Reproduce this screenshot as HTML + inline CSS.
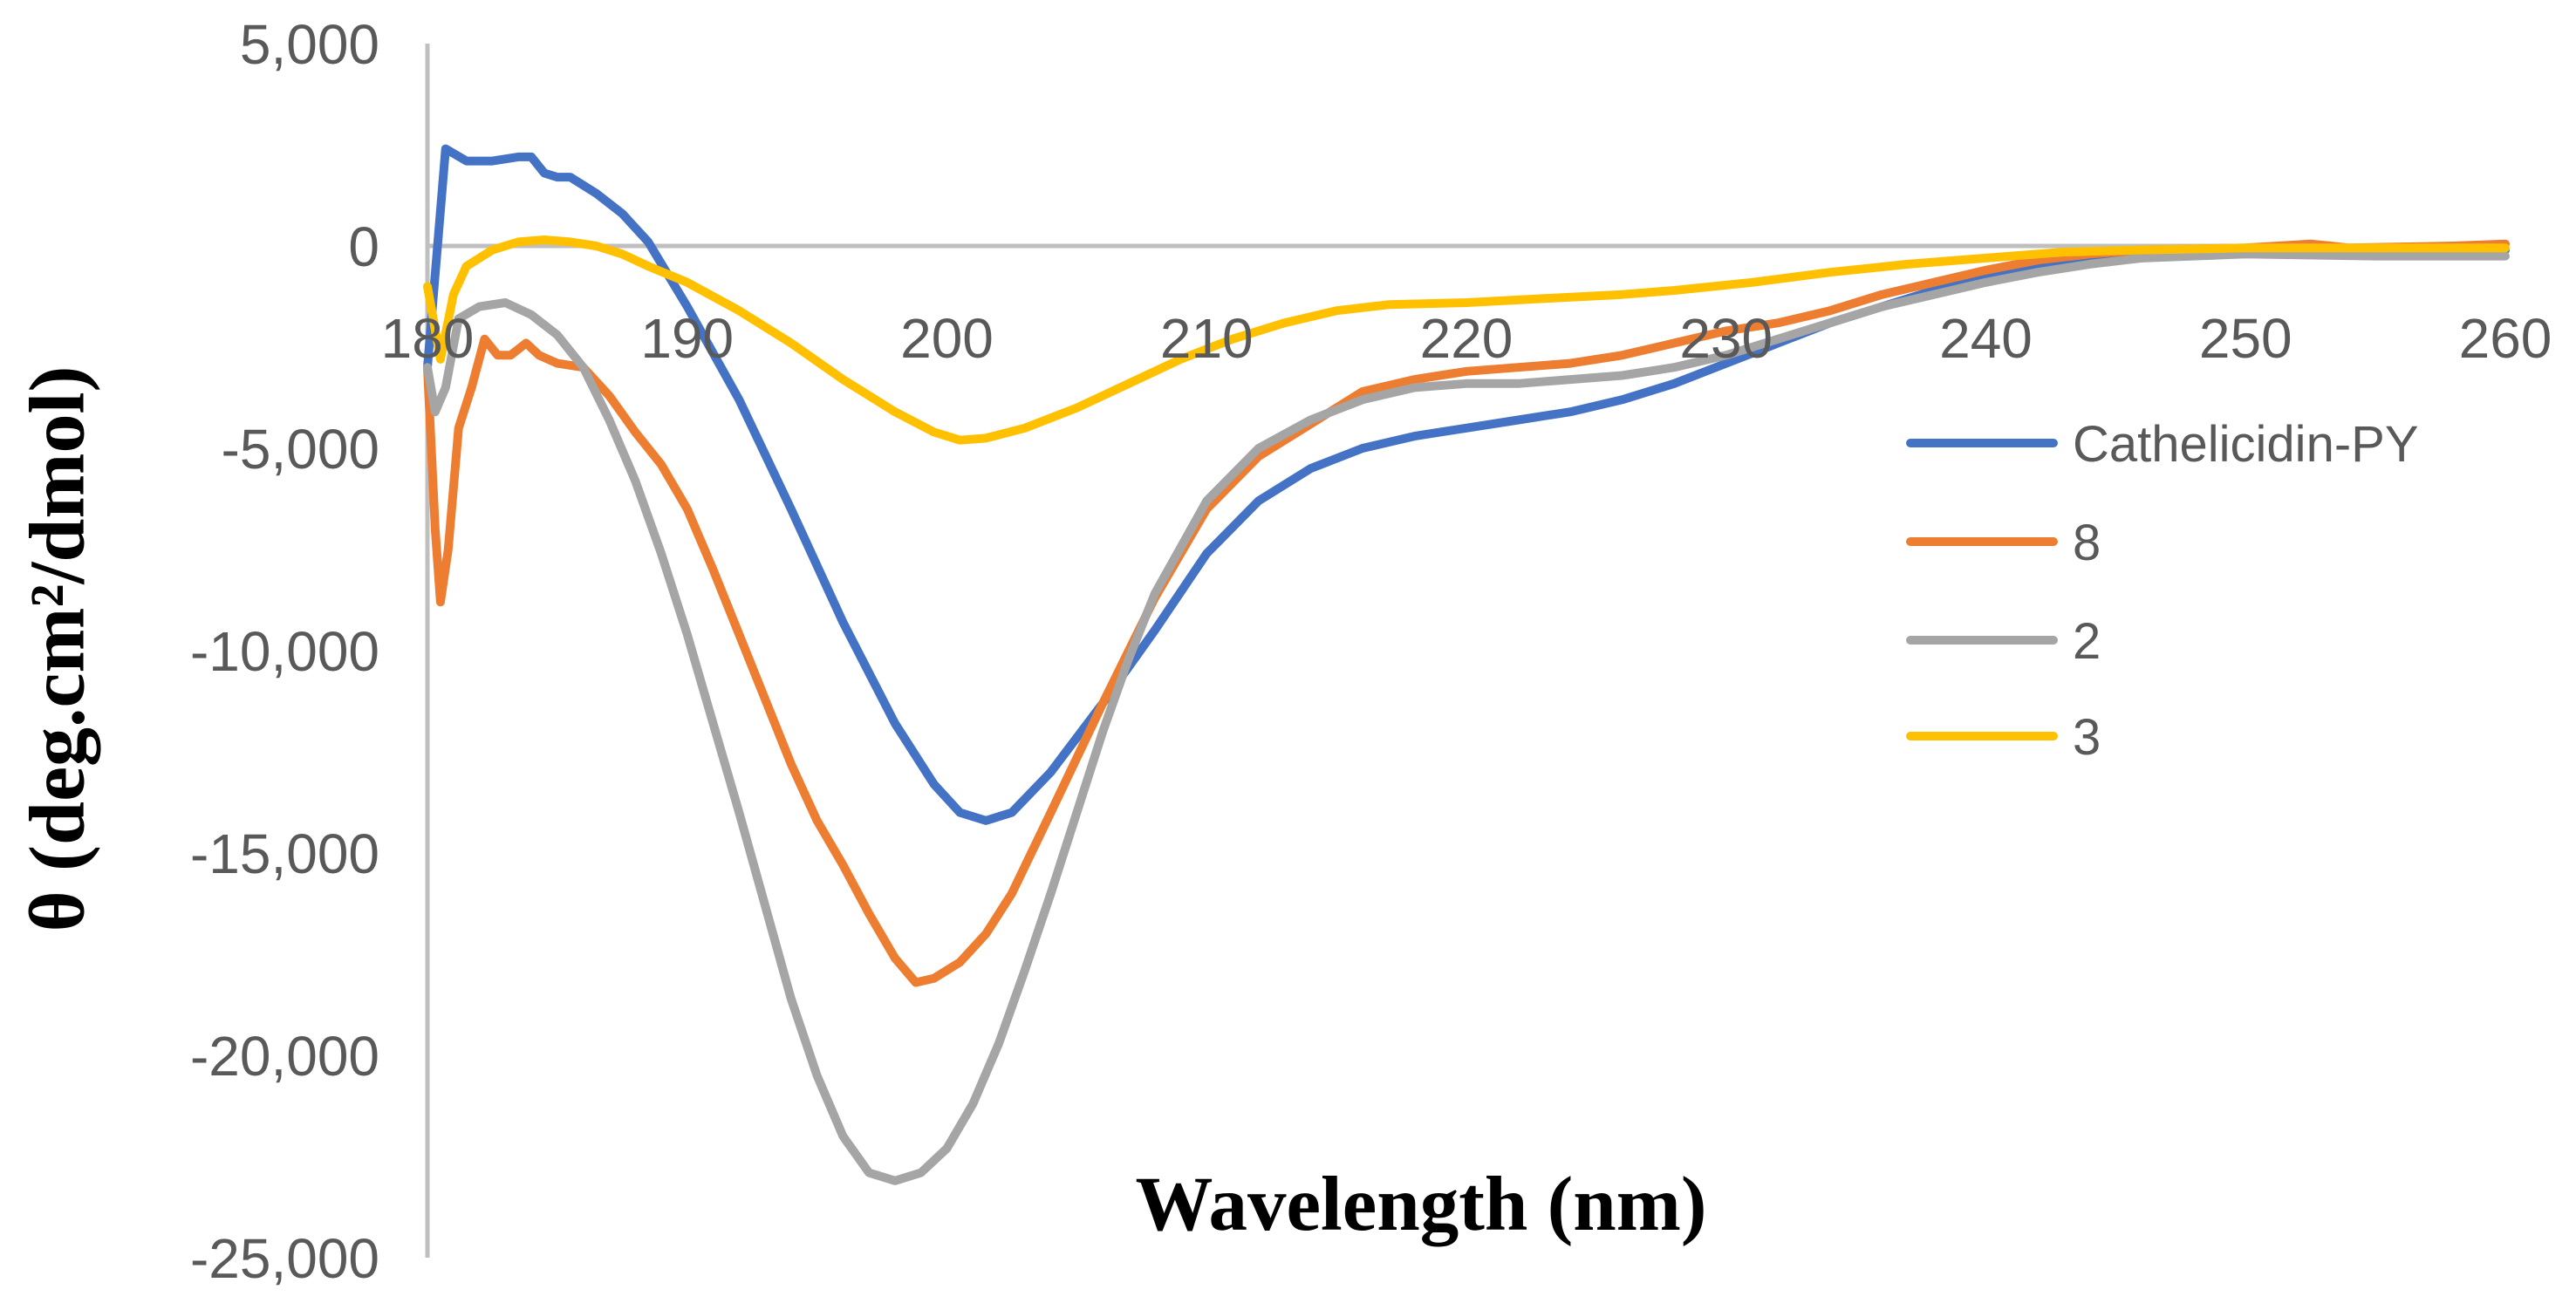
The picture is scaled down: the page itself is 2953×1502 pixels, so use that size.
<!DOCTYPE html>
<html><head><meta charset="utf-8"><style>
html,body{margin:0;padding:0;background:#fff;}
svg{display:block;}
</style></head><body>
<svg id="chart" width="2953" height="1502" viewBox="0 0 2953 1502" xmlns="http://www.w3.org/2000/svg">
<g id="grid"></g>
<g id="series"></g>
<g id="labels"></g>
<g id="legend"></g>
<text transform="translate(66,744) rotate(-90)" text-anchor="middle" dominant-baseline="central" font-family="Liberation Serif, serif" font-weight="bold" font-size="90" fill="#000">θ (deg.cm²/dmol)</text>
<text x="1629" y="1410" text-anchor="middle" font-family="Liberation Serif, serif" font-weight="bold" font-size="89" fill="#000">Wavelength (nm)</text>
</svg>
<script>
const xTicks=[180,190,200,210,220,230,240,250,260];
const yTicks=[5000,0,-5000,-10000,-15000,-20000,-25000];
const yTickLabels=["5,000","0","-5,000","-10,000","-15,000","-20,000","-25,000"];
const seriesNames=["Cathelicidin-PY","8","2","3"];
const seriesColors=["#4472c4","#ed7d31","#a5a5a5","#ffc000"];
const blueX=[180,180.7,181.5,182.5,183.5,184,184.5,185,185.5,186.5,187.5,188.5,190,192,194,196,198,199.5,200.5,201.5,202.5,204,206,208,210,212,214,216,218,220,222,224,226,228,230,232,234,236,238,240,242,244,246,250,255,260];
const blueY=[-3000,2400,2100,2100,2200,2200,1800,1700,1700,1300,800,100,-1500,-3800,-6500,-9300,-11800,-13300,-14000,-14200,-14000,-13000,-11300,-9500,-7600,-6300,-5500,-5000,-4700,-4500,-4300,-4100,-3800,-3400,-2900,-2400,-1900,-1500,-1100,-800,-550,-350,-200,-150,-150,-100];
const orangeX=[180,180.3,180.5,180.8,181.2,181.7,182.2,182.7,183.2,183.8,184.3,185,186,187,188,189,190,191,192,193,194,195,196,197,198,198.8,199.5,200.5,201.5,202.5,204,206,208,210,212,214,216,218,220,222,224,226,228,230,232,234,236,238,240,242,244,246,250,252.5,254,258,260];
const orangeY=[-3000,-7000,-8800,-7500,-4500,-3500,-2300,-2700,-2700,-2400,-2700,-2900,-3000,-3700,-4600,-5400,-6500,-8000,-9600,-11200,-12800,-14200,-15300,-16500,-17600,-18200,-18100,-17700,-17000,-16000,-14000,-11300,-8700,-6500,-5200,-4400,-3600,-3300,-3100,-3000,-2900,-2700,-2400,-2100,-1900,-1600,-1200,-900,-600,-350,-200,-100,-50,50,-50,0,50];
const grayX=[180,180.3,180.7,181.2,182,183,184,185,186,187,188,189,190,191,192,193,194,195,196,197,198,199,200,201,202,203,204,205,206,207,208,210,212,214,216,218,220,222,224,226,228,230,232,234,236,238,240,242,244,246,250,255,260];
const grayY=[-3000,-4100,-3500,-1800,-1500,-1400,-1700,-2200,-3000,-4300,-5800,-7600,-9600,-11800,-14000,-16300,-18600,-20500,-22000,-22900,-23100,-22900,-22300,-21200,-19700,-17900,-16000,-14000,-12000,-10200,-8600,-6300,-5000,-4300,-3800,-3500,-3400,-3400,-3300,-3200,-3000,-2700,-2300,-1900,-1500,-1200,-900,-650,-450,-300,-200,-250,-250];
const yellowX=[180,180.5,181,181.5,182.5,183.5,184.5,185.5,186.5,187.5,188.5,190,192,194,196,198,199.5,200.5,201.5,203,205,207,209,211,213,215,217,220,223,226,228,231,234,237,240,243,246,250,255,260];
const yellowY=[-1000,-2800,-1200,-500,-100,100,150,100,0,-200,-500,-900,-1600,-2400,-3300,-4100,-4600,-4800,-4750,-4500,-4000,-3400,-2800,-2300,-1900,-1600,-1450,-1400,-1300,-1200,-1100,-900,-650,-450,-300,-150,-100,-50,-50,-50];

const NS="http://www.w3.org/2000/svg";
const X0=490,X1=2872,Y0=282,PER5K=232;
function sx(v){return X0+(v-180)/80*(X1-X0);}
function sy(v){return Y0-v/5000*PER5K;}
function mk(tag,attrs,parent){const e=document.createElementNS(NS,tag);for(const k in attrs)e.setAttribute(k,attrs[k]);parent.appendChild(e);return e;}
const grid=document.getElementById('grid'),ser=document.getElementById('series'),lab=document.getElementById('labels'),leg=document.getElementById('legend');
let ya=mk('line',{x1:sx(180),x2:sx(180),y1:sy(5000),y2:sy(-25000),stroke:'#bfbfbf','stroke-width':5},grid);


let xa=mk('line',{x1:sx(180),x2:sx(260),y1:sy(0),y2:sy(0),stroke:'#bfbfbf','stroke-width':5},grid);


yTicks.forEach((t,i)=>{
 const e=mk('text',{x:sx(180)-55,y:sy(t)+23,'text-anchor':'end','font-family':'Liberation Sans, sans-serif','font-size':64,fill:'#595959'},lab);
 e.textContent=yTickLabels[i];
 
 
});
xTicks.forEach(t=>{
 const e=mk('text',{x:sx(t),y:sy(0)+128,'text-anchor':'middle','font-family':'Liberation Sans, sans-serif','font-size':64,fill:'#595959'},lab);
 e.textContent=String(t);
 
 
});
const allX=[blueX,orangeX,grayX,yellowX],allY=[blueY,orangeY,grayY,yellowY];
[0,1,2,3].forEach(i=>{
 const d=allX[i].map((x,j)=>(j?'L':'M')+sx(x).toFixed(1)+','+sy(allY[i][j]).toFixed(1)).join(' ');
 const p=mk('path',{d:d,fill:'none',stroke:seriesColors[i],'stroke-width':10,'stroke-linejoin':'round','stroke-linecap':'round'},ser);
 
 
});
const legY=[508,621,734,844];
seriesNames.forEach((n,i)=>{
 const l=mk('line',{x1:2190,x2:2354,y1:legY[i],y2:legY[i],stroke:seriesColors[i],'stroke-width':10,'stroke-linecap':'round'},leg);
 
 
 const t=mk('text',{x:2376,y:legY[i]+21,'font-family':'Liberation Sans, sans-serif','font-size':58,fill:'#595959'},leg);
 t.textContent=n;
 
 
});
</script>
</body></html>
